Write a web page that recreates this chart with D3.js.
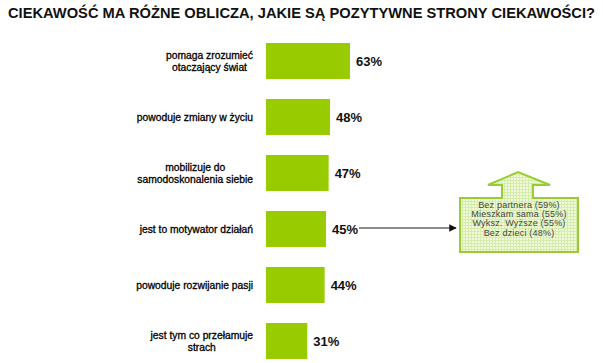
<!DOCTYPE html>
<html>
<head>
<meta charset="utf-8">
<script src="https://cdn.jsdelivr.net/npm/d3@7"></script>
<style>
  body { margin: 0; background: #fff; }
  text { font-family: "Liberation Sans", Arial, sans-serif; }
</style>
</head>
<body>
<script>
var width = 603;
var height = 363;
var barColor = "#99cc00";

// data
var categories = [
  ["pomaga zrozumieć", "otaczający świat"],
  ["powoduje zmiany w życiu"],
  ["mobilizuje do", "samodoskonalenia siebie"],
  ["jest to motywator działań"],
  ["powoduje rozwijanie pasji"],
  ["jest tym co przełamuje", "strach"]
];
var values = [63, 48, 47, 45, 44, 31];
var calloutLines = ["Bez partnera (59%)", "Mieszkam sama (55%)", "Wyksz. Wyższe (55%)", "Bez dzieci (48%)"];
var calloutIndex = 3;

var svg = d3.select('body').append('svg')
    .attr('width', width)
    .attr('height', height);

// title
svg.append('text')
    .attr('x', 8)
    .attr('y', 18)
    .attr('font-size', 14.4)
    .attr('font-weight', 'bold')
    .attr('fill', '#111')
    .attr('textLength', 587)
    .attr('lengthAdjust', 'spacingAndGlyphs')
    .text('CIEKAWOŚĆ MA RÓŻNE OBLICZA, JAKIE SĄ POZYTYWNE STRONY CIEKAWOŚCI?');

var keys = categories.map(function(d, i) { return i; });

var x = d3.scaleLinear()
    .domain([0, 100])
    .range([266, 266 + 133.3]);

var y = d3.scaleBand()
    .domain(keys)
    .range([43, 359])
    .paddingInner(20 / 56)
    .paddingOuter(0);

// bars
svg.selectAll('rect.bar')
    .data(values)
    .enter().append('rect')
    .attr('class', 'bar')
    .attr('x', x(0))
    .attr('y', function(d, i) { return y(i); })
    .attr('width', function(d) { return x(d) - x(0); })
    .attr('height', y.bandwidth())
    .attr('fill', barColor);

// value labels
svg.selectAll('text.val')
    .data(values)
    .enter().append('text')
    .attr('class', 'val')
    .attr('x', function(d) { return x(d) + 6; })
    .attr('y', function(d, i) { return y(i) + y.bandwidth() / 2 + 5; })
    .attr('font-size', 13)
    .attr('font-weight', 'bold')
    .attr('fill', '#111')
    .text(function(d) { return d + '%'; });

// category labels (block right aligned, lines centred)
var labelRight = 253;
categories.forEach(function(lines, i) {
  var g = svg.append('g');
  var cy = y(i) + y.bandwidth() / 2;
  var lh = 12;
  var texts = lines.map(function(l, j) {
    return g.append('text')
        .attr('y', cy + 3.5 + (j - (lines.length - 1) / 2) * lh)
        .attr('font-size', 10.3)
        .attr('fill', '#000')
        .attr('stroke', '#000')
        .attr('stroke-width', 0.3)
        .attr('text-anchor', 'middle')
        .text(l);
  });
  var maxW = d3.max(texts, function(t) { return t.node().getComputedTextLength(); });
  texts.forEach(function(t) { t.attr('x', labelRight - maxW / 2); });
});

// callout
var defs = svg.append('defs');
var pat = defs.append('pattern')
    .attr('id', 'grid')
    .attr('width', 3)
    .attr('height', 3)
    .attr('patternUnits', 'userSpaceOnUse');
pat.append('rect').attr('width', 3).attr('height', 3).attr('fill', '#f1f9dc');
pat.append('path').attr('d', 'M0,0.5H3M0.5,0V3').attr('stroke', '#d6ecab').attr('stroke-width', 1);

defs.append('marker')
    .attr('id', 'arrow')
    .attr('viewBox', '0 0 10 10')
    .attr('refX', 9)
    .attr('refY', 5)
    .attr('markerWidth', 5)
    .attr('markerHeight', 5)
    .attr('orient', 'auto')
    .append('path')
    .attr('d', 'M0,0L10,5L0,10Z')
    .attr('fill', '#111');

var lineY = y(calloutIndex) + y.bandwidth() / 2 - 1;
svg.append('line')
    .attr('x1', x(values[calloutIndex]) + 33)
    .attr('x2', 456)
    .attr('y1', lineY)
    .attr('y2', lineY)
    .attr('stroke', '#666')
    .attr('stroke-width', 1.5)
    .attr('marker-end', 'url(#arrow)');

var shape = [
  [460, 198], [502, 198], [502, 185], [488, 185], [518, 172],
  [550, 185], [533, 185], [533, 198], [578, 198], [578, 252], [460, 252]
];
svg.append('path')
    .attr('d', d3.line()(shape) + 'Z')
    .attr('fill', 'url(#grid)')
    .attr('stroke', '#99cc33')
    .attr('stroke-width', 2);

svg.selectAll('text.call')
    .data(calloutLines)
    .enter().append('text')
    .attr('class', 'call')
    .attr('x', 519)
    .attr('y', function(d, i) { return 208 + i * 9.2; })
    .attr('font-size', 9)
    .attr('letter-spacing', 0.2)
    .attr('text-anchor', 'middle')
    .attr('fill', '#444')
    .text(function(d) { return d; });
</script>
</body>
</html>
